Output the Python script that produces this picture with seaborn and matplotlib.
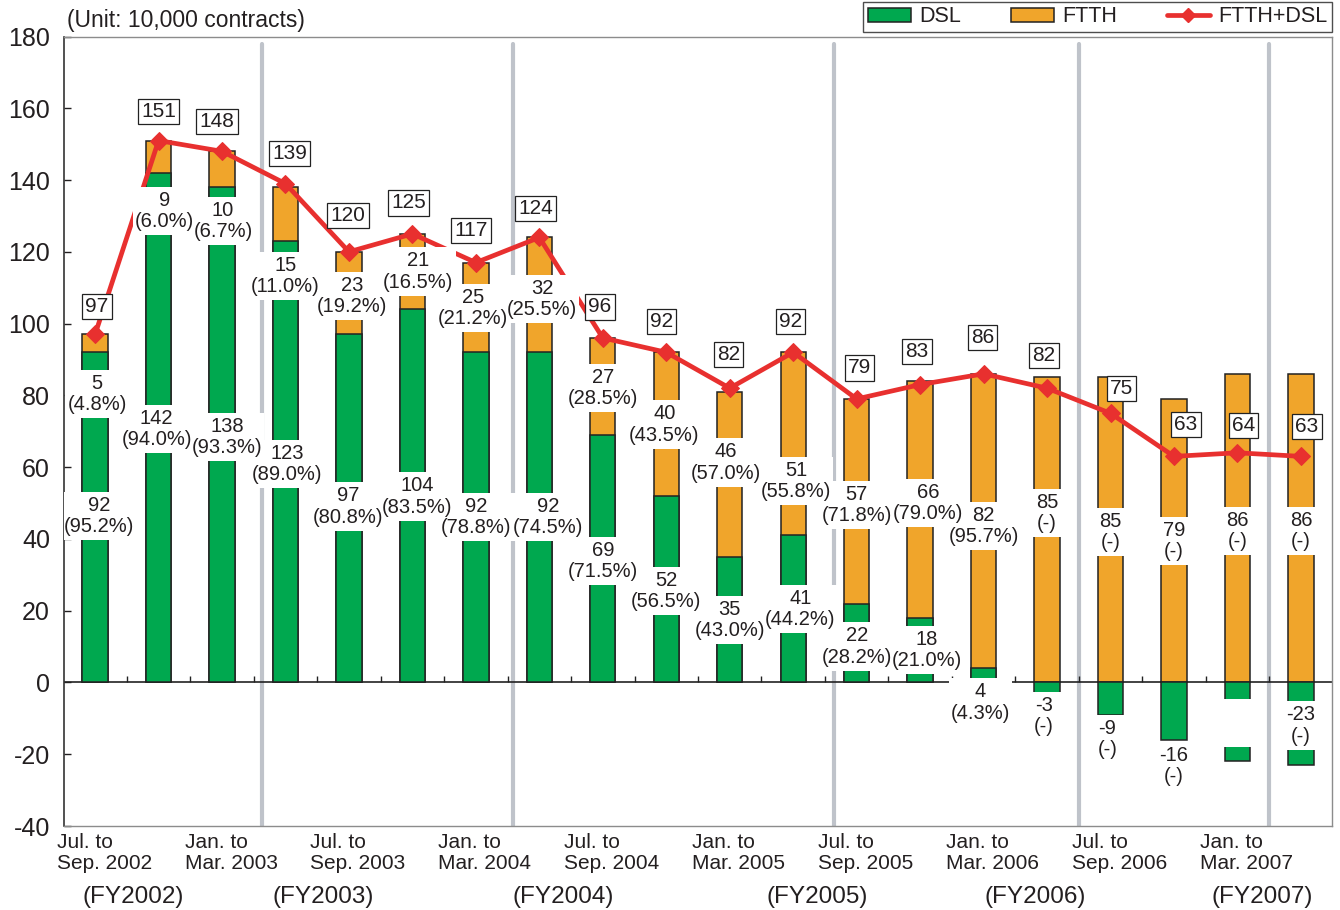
import numpy as np
import pandas as pd
import matplotlib
matplotlib.use('Agg')
import matplotlib.pyplot as plt
import seaborn as sns
from matplotlib.patches import Patch, Rectangle
from matplotlib.lines import Line2D

# quarterly net additions (10,000 contracts)
quarters = ['Q%02d' % i for i in range(20)]
dsl = [92, 142, 138, 123, 97, 104, 92, 92, 69, 52, 35, 41, 22, 18, 4, -3, -9, -16, -22, -23]
ftth = [5, 9, 10, 15, 23, 21, 25, 32, 27, 40, 46, 51, 57, 66, 82, 85, 85, 79, 86, 86]
total = [97, 151, 148, 139, 120, 125, 117, 124, 96, 92, 82, 92, 79, 83, 86, 82, 75, 63, 64, 63]
dsl_pct = [95.2, 94.0, 93.3, 89.0, 80.8, 83.5, 78.8, 74.5, 71.5, 56.5, 43.0, 44.2, 28.2, 21.0, 4.3,
           None, None, None, None, None]
ftth_pct = [4.8, 6.0, 6.7, 11.0, 19.2, 16.5, 21.2, 25.5, 28.5, 43.5, 57.0, 55.8, 71.8, 79.0, 95.7,
            None, None, None, None, None]
dsl_hidden = [18]  # label box left empty in the source

tick_text = ['Jul. to\nSep. 2002', 'Jan. to\nMar. 2003', 'Jul. to\nSep. 2003', 'Jan. to\nMar. 2004',
             'Jul. to\nSep. 2004', 'Jan. to\nMar. 2005', 'Jul. to\nSep. 2005', 'Jan. to\nMar. 2006',
             'Jul. to\nSep. 2006', 'Jan. to\nMar. 2007']
fy_text = ['(FY2002)', '(FY2003)', '(FY2004)', '(FY2005)', '(FY2006)', '(FY2007)']

# layout only
fy_x = [0.6, 3.59, 7.38, 11.38, 14.81, 18.39]
sep_x = [2.63, 6.58, 11.65, 15.5, 18.5]
ftth_lab_y = [80.3, 131.3, 128.5, 113.2, 107.6, 114.5, 104.4, 106.8, 82.1, 71.9, 61.3, 56.1,
              49.5, 50.1, 43.6, 47.3, 41.9, 39.4, 42.3, 42.3]
ftth_lab_dx = [2, 6, 1, 0, 3, 6, -3, 3, 0, -2, -4, 3, 0, 8, 0, 0, 0, 0, 0, 0]
dsl_lab_y = [46.4, 70.7, 68.4, 60.8, 49.0, 51.8, 46.1, 46.1, 33.8, 25.4, 17.4, 20.5,
             10.0, 9.0, -5.6, -9.3, -15.8, -23.3, -11.2, -12.0]
dsl_lab_dx = [4, -2, 5, 2, -1, 5, 0, 9, 0, 0, 0, 7, 0, 7, -3, -3, -3, 0, 0, 0]
tot_dx = [2, 0, -5, 4, -1, -4, -5, -4, -3, -5, -1, -3, 3, -3, -1, -3, 11, 12, 6, 6]
tot_dy = [28, 29, 30, 30, 36, 31, 32, 29, 31, 31, 34, 31, 31, 33, 36, 33, 25, 32, 27, 30]

GREEN = '#00a84f'
ORANGE = '#f0a52b'
RED = '#e8302f'
SEP = '#bfc3ca'
EDGE = '#222222'

df = pd.DataFrame({'quarter': quarters, 'dsl': dsl, 'ftth': ftth, 'total': total})
df['ftth_top'] = df['dsl'].clip(lower=0) + df['ftth']

sns.set_theme(style='white')
plt.rcParams['font.family'] = ['Liberation Sans', 'DejaVu Sans']
plt.rcParams['text.color'] = '#231f20'
plt.rcParams['axes.unicode_minus'] = False

fig = plt.figure(figsize=(13.4, 9.1), dpi=100)
ax = fig.add_axes([64 / 1340, 84 / 910, 1268 / 1340, 789.5 / 910])

for x in sep_x:
    ax.axvline(x, ymin=0, ymax=0.991, color=SEP, lw=3, zorder=0.5)

sns.barplot(data=df, x='quarter', y='ftth_top', order=quarters, color=ORANGE, saturation=1,
            width=0.4, edgecolor=EDGE, linewidth=1.1, ax=ax, zorder=2)
sns.barplot(data=df, x='quarter', y='dsl', order=quarters, color=GREEN, saturation=1,
            width=0.4, edgecolor=EDGE, linewidth=1.1, ax=ax, zorder=2.1)

ax.axhline(0, color=EDGE, lw=1.2, zorder=1.5)
ax.vlines(np.arange(0.5, 19.5, 1.0), 0, 1.8, color=EDGE, lw=1, zorder=1.5)

xs = np.arange(len(quarters))
sns.lineplot(x=xs, y=df['total'], color=RED, lw=3.4, marker='D', markersize=9,
             markeredgecolor=RED, sort=False, ax=ax, zorder=3)

PX = 1 / 63.4  # one pixel in x data units
seg_texts = []
for i in range(len(quarters)):
    fp = ftth_pct[i]
    t = ax.text(i + ftth_lab_dx[i] * PX, ftth_lab_y[i],
                '%d\n(%s)' % (ftth[i], '-' if fp is None else '%.1f%%' % fp),
                ha='center', va='center', fontsize=14.5, linespacing=1.15, zorder=5.5)
    seg_texts.append((i, t))
    if i not in dsl_hidden:
        dp = dsl_pct[i]
        t = ax.text(i + dsl_lab_dx[i] * PX, dsl_lab_y[i],
                    '%d\n(%s)' % (dsl[i], '-' if dp is None else '%.1f%%' % dp),
                    ha='center', va='center', fontsize=14.5, linespacing=1.15, zorder=5.5)
        seg_texts.append((i, t))
    ax.annotate(str(total[i]), xy=(i, total[i]), xytext=(tot_dx[i], tot_dy[i]),
                textcoords='offset pixels', ha='center', va='center', fontsize=15,
                bbox=dict(boxstyle='square,pad=0.15', facecolor='white', edgecolor=EDGE, lw=0.9),
                zorder=6)

ax.set_xlim(-0.49, 19.49)
ax.set_ylim(-40, 180)
ax.set_yticks(np.arange(-40, 181, 20))
ax.tick_params(axis='y', direction='in', length=5, width=1, pad=10, labelsize=18, left=True,
               colors='#231f20')
ax.set_xticks([])
ax.set_xlabel('')
ax.set_ylabel('')
for side in ['top', 'right', 'bottom']:
    ax.spines[side].set_color('#8c8c8c')
    ax.spines[side].set_linewidth(1.0)
ax.spines['left'].set_color('#333333')
ax.spines['left'].set_linewidth(1.2)

for k, t in enumerate(tick_text):
    ax.annotate(t, xy=(2 * k, 0), xycoords=('data', 'axes fraction'), xytext=(9, -7),
                textcoords='offset pixels', ha='center', va='top', multialignment='left',
                fontsize=15, linespacing=1.15, annotation_clip=False)
for x, t in zip(fy_x, fy_text):
    ax.annotate(t, xy=(x, 0), xycoords=('data', 'axes fraction'), xytext=(0, -71),
                textcoords='offset pixels', ha='center', va='center', fontsize=17.5,
                annotation_clip=False)

fig.text(67 / 1340, 1 - 21 / 910, '(Unit: 10,000 contracts)', ha='left', va='center', fontsize=16.5)

handles = [Patch(facecolor=GREEN, edgecolor=EDGE, lw=1.1, label='DSL'),
           Patch(facecolor=ORANGE, edgecolor=EDGE, lw=1.1, label='FTTH'),
           Line2D([0], [0], color=RED, lw=3.4, marker='D', markersize=7, label='FTTH+DSL')]
leg = ax.legend(handles=handles, loc='lower right', bbox_to_anchor=(1.0, 1.006), ncol=3,
                fontsize=15.5, frameon=True, fancybox=False, borderaxespad=0, borderpad=0.2,
                handlelength=2.0, handleheight=0.6, handletextpad=0.4, columnspacing=2.3)
leg.get_frame().set_edgecolor(EDGE)
leg.get_frame().set_linewidth(1.0)

# white knock-out boxes under the segment labels, all below every label text
fig.canvas.draw()
rend = fig.canvas.get_renderer()
inv = ax.transData.inverted()
bar_half = ax.transData.transform((0.23, 0))[0] - ax.transData.transform((0, 0))[0]


def knock_out(i, bb):
    # at least as wide as the bar it sits on, edges included
    cx = ax.transData.transform((i, 0))[0]
    left = min(bb.x0 - 2, cx - bar_half)
    right = max(bb.x1 + 2, cx + bar_half)
    (x0, y0), (x1, y1) = inv.transform([[left, bb.y0 - 4], [right, bb.y1 + 4]])
    ax.add_patch(Rectangle((x0, y0), x1 - x0, y1 - y0, facecolor='white', edgecolor='none',
                           zorder=5))


for i, t in seg_texts:
    knock_out(i, t.get_window_extent(rend))

# empty box of the source: same size as its neighbour's label
ref = seg_texts[-1][1].get_window_extent(rend)
for i in dsl_hidden:
    cx, cy = ax.transData.transform((i, dsl_lab_y[i]))
    w, h = ref.width / 2, ref.height / 2
    knock_out(i, matplotlib.transforms.Bbox([[cx - w, cy - h], [cx + w, cy + h]]))

fig.savefig('out.png', dpi=100)
